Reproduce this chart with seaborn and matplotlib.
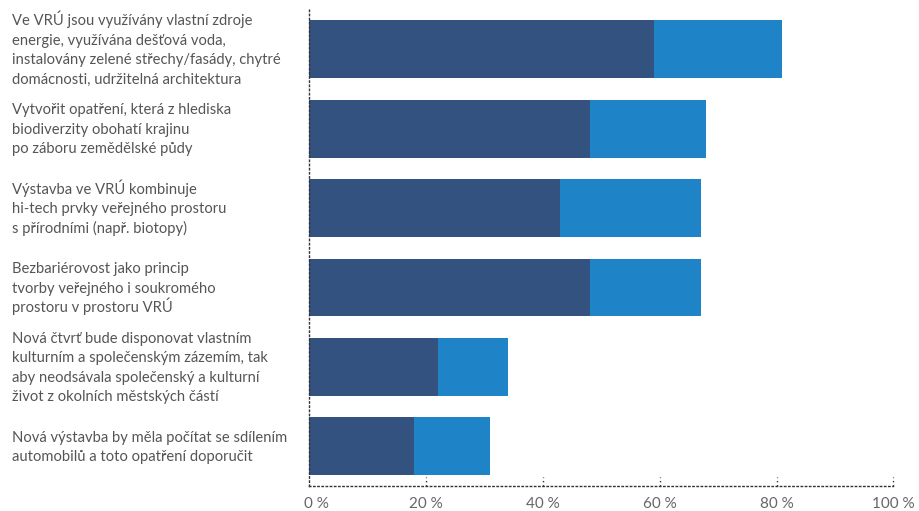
import matplotlib
matplotlib.use("Agg")
import matplotlib.pyplot as plt
import matplotlib.transforms as mtransforms
import seaborn as sns
import pandas as pd

categories = [
    "Ve VRÚ jsou využívány vlastní zdroje\nenergie, využívána dešťová voda,\ninstalovány zelené střechy/fasády, chytré\ndomácnosti, udržitelná architektura",
    "Vytvořit opatření, která z hlediska\nbiodiverzity obohatí krajinu\npo záboru zemědělské půdy",
    "Výstavba ve VRÚ kombinuje\nhi-tech prvky veřejného prostoru\ns přírodními (např. biotopy)",
    "Bezbariérovost jako princip\ntvorby veřejného i soukromého\nprostoru v prostoru VRÚ",
    "Nová čtvrť bude disponovat vlastním\nkulturním a společenským zázemím, tak\naby neodsávala společenský a kulturní\nživot z okolních městských částí",
    "Nová výstavba by měla počítat se sdílením\nautomobilů a toto opatření doporučit",
]
series_dark = [59, 48, 43, 48, 22, 18]
series_light = [22, 20, 24, 19, 12, 13]
x_ticks = [0, 20, 40, 60, 80, 100]
x_tick_labels = ["0 %", "20 %", "40 %", "60 %", "80 %", "100 %"]

DARK = "#345280"
LIGHT = "#1e84c7"
TEXT = "#555555"
DPI = 100

df = pd.DataFrame({
    "category": categories,
    "dark": series_dark,
    "total": [d + l for d, l in zip(series_dark, series_light)],
})

sns.set_theme(style="white")
plt.rcParams["font.family"] = ["Lato", "DejaVu Sans"]

fig = plt.figure(figsize=(9.2, 5.11), dpi=DPI)
ax = fig.add_axes([0.3362, 0.0489, 0.971 - 0.3362, 0.9843 - 0.0489])

sns.barplot(data=df, y="category", x="total", color=LIGHT, orient="h",
            width=0.73, saturation=1, ax=ax, order=categories, linewidth=0)
sns.barplot(data=df, y="category", x="dark", color=DARK, orient="h",
            width=0.73, saturation=1, ax=ax, order=categories, linewidth=0)

ax.set_xlim(0, 100)
ax.set_ylim(5.5, -0.52)
ax.set_xlabel("")
ax.set_ylabel("")

for s in ["top", "right"]:
    ax.spines[s].set_visible(False)
for s in ["left", "bottom"]:
    ax.spines[s].set_linestyle((0, (1, 2)))
    ax.spines[s].set_color("#333333")
    ax.spines[s].set_linewidth(1.0)

ax.set_xticks(x_ticks)
ax.set_xticklabels(x_tick_labels, color="#666666", fontsize=11)
ax.tick_params(axis="x", length=0, pad=8)
# dotted tick marks going upward from the axis
tr = mtransforms.blended_transform_factory(ax.transData, ax.transAxes)
ax.vlines(x_ticks[1:], 0, 0.019, transform=tr, colors="#333333",
          linestyles=(0, (1, 2)), linewidth=1.0, clip_on=False)

# shift first tick label a bit right
first = ax.get_xticklabels()[0]
first.set_transform(first.get_transform() + mtransforms.ScaledTranslation(7 / DPI, 0, fig.dpi_scale_trans))

# category labels: left-aligned, even line pitch, centred on each bar
ax.set_yticks(range(len(categories)))
ax.set_yticklabels([""] * len(categories))
ax.tick_params(axis="y", length=0)
PITCH = 19.5  # px between baselines
BASE_OFF = 5.0  # px baseline below centre for middle line
ytr = mtransforms.blended_transform_factory(fig.transFigure, ax.transData)
for i, cat in enumerate(categories):
    lines = cat.split("\n")
    n = len(lines)
    for j, line in enumerate(lines):
        off_px = (j - (n - 1) / 2) * PITCH + BASE_OFF
        t = ytr + mtransforms.ScaledTranslation(0, -off_px / DPI, fig.dpi_scale_trans)
        ax.text(12 / 920, i, line, transform=t, ha="left", va="baseline",
                color=TEXT, fontsize=10.6, clip_on=False)

ax.grid(False)
fig.savefig("out.png", dpi=DPI)
